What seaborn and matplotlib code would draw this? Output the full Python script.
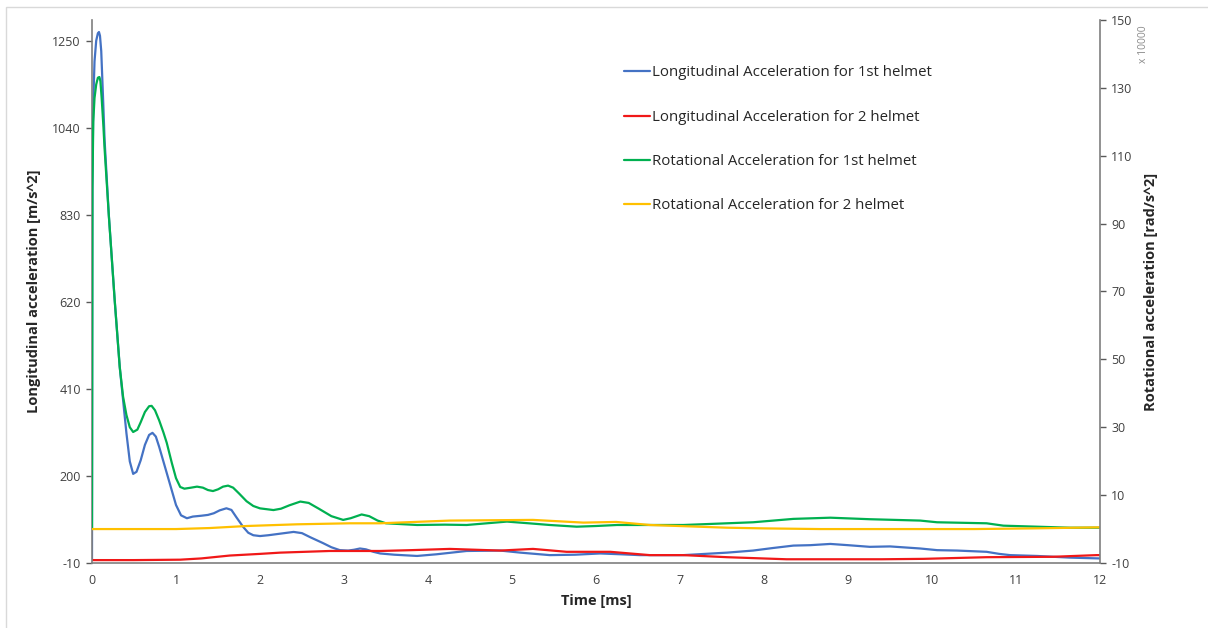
import numpy as np
import pandas as pd
import matplotlib
matplotlib.use("Agg")
import matplotlib.pyplot as plt
import seaborn as sns
from matplotlib.patches import Rectangle

# ---- data ----
t_blue = [0, 0.005, 0.015, 0.03, 0.05, 0.07, 0.083, 0.095, 0.11, 0.13, 0.15, 0.20, 0.27, 0.33,
          0.41, 0.45, 0.49, 0.53, 0.58, 0.63, 0.68, 0.72, 0.76, 0.80, 0.85, 0.89, 0.95, 1.00,
          1.06, 1.13, 1.20, 1.30, 1.38, 1.45, 1.52, 1.60, 1.66, 1.72, 1.80, 1.86, 1.92, 2.00,
          2.10, 2.25, 2.40, 2.50, 2.60, 2.75, 2.85, 2.95, 3.05, 3.12, 3.19, 3.26, 3.35, 3.43,
          3.60, 3.87, 4.10, 4.46, 4.86, 5.10, 5.45, 5.75, 6.05, 6.30, 6.52, 7.04, 7.30, 7.56,
          7.87, 8.10, 8.35, 8.55, 8.79, 9.00, 9.26, 9.50, 9.86, 10.06, 10.30, 10.65, 10.80,
          10.93, 11.25, 11.64, 12.0]
long_1st = [0, 900, 1100, 1200, 1250, 1268, 1271, 1262, 1225, 1120, 1010, 830, 624, 463,
            303, 235, 205, 210, 238, 275, 299, 304, 295, 270, 235, 207, 165, 130,
            105, 98, 102, 104, 106, 110, 117, 122, 118, 100, 77, 63, 57, 55,
            57, 61, 65, 62, 52, 38, 28, 21, 20, 22, 25, 23, 17, 13,
            10, 7, 11, 19, 20, 15, 9, 10, 13, 11, 9, 9, 12, 15,
            20, 26, 32, 33, 36, 33, 29, 30, 25, 21, 20, 17, 12,
            9, 7, 3, 1]

t_red = [0, 0.5, 1.05, 1.3, 1.64, 2.0, 2.24, 2.83, 3.43, 3.8, 4.26, 4.86, 5.25, 5.65, 6.17,
         6.64, 7.04, 7.56, 8.27, 8.8, 9.4, 9.9, 10.65, 11.44, 11.96, 12.0]
long_2nd = [-3, -3, -2, 1, 8, 12, 15, 19, 19, 21, 24, 20, 24, 17, 17,
            9, 9, 4, -1, -1, -1, 0, 4, 5, 9, 9]

t_green = [0, 0.005, 0.015, 0.03, 0.05, 0.07, 0.088, 0.10, 0.115, 0.135, 0.15, 0.20, 0.27,
           0.33, 0.37, 0.41, 0.45, 0.49, 0.54, 0.58, 0.63, 0.68, 0.71, 0.75, 0.80, 0.85, 0.89,
           0.95, 1.00, 1.05, 1.10, 1.18, 1.25, 1.32, 1.38, 1.44, 1.50, 1.56, 1.62, 1.68, 1.75,
           1.84, 1.92, 2.00, 2.16, 2.25, 2.35, 2.48, 2.58, 2.70, 2.85, 2.99, 3.08, 3.21, 3.30,
           3.40, 3.50, 3.87, 4.20, 4.46, 4.70, 4.94, 5.20, 5.45, 5.77, 6.00, 6.25, 6.64, 7.04,
           7.56, 7.87, 8.35, 8.79, 9.26, 9.86, 10.06, 10.65, 10.85, 11.25, 11.64, 12.0]
rot_1st = [0, 100, 120, 127, 131, 133, 133.2, 132, 127, 119, 112, 92.5, 67.5,
           47.8, 39, 33.6, 30, 28.6, 29.3, 31.5, 34.5, 36.2, 36.3, 35, 32, 28.5, 25.4,
           19.5, 15, 12.4, 11.9, 12.2, 12.5, 12.2, 11.5, 11.2, 11.7, 12.5, 12.8, 12.2, 10.5,
           8.2, 6.8, 6.1, 5.6, 6.0, 7.0, 8.1, 7.7, 6.0, 3.8, 2.7, 3.2, 4.3, 3.8,
           2.5, 1.7, 1.2, 1.3, 1.2, 1.7, 2.2, 1.7, 1.2, 0.7, 0.9, 1.2, 1.2, 1.2,
           1.7, 2.0, 3.0, 3.35, 2.9, 2.5, 2.0, 1.7, 1.0, 0.7, 0.4, 0.4]

t_yellow = [0, 0.5, 1.0, 1.4, 1.84, 2.44, 3.07, 3.43, 4.26, 5.25, 5.85, 6.24, 6.64, 7.56,
            8.0, 8.67, 9.3, 9.9, 10.5, 11.2, 11.96, 12.0]
rot_2nd = [0, 0, 0, 0.3, 0.9, 1.4, 1.7, 1.7, 2.5, 2.7, 1.9, 2.1, 1.2, 0.4,
           0.2, 0.0, 0.0, 0.0, 0.0, 0.2, 0.5, 0.5]

left_ticks = [-10, 200, 410, 620, 830, 1040, 1250]
right_ticks = [-10, 10, 30, 50, 70, 90, 110, 130, 150]
x_ticks = list(range(0, 13))

labels = ["Longitudinal Acceleration for 1st helmet",
          "Longitudinal Acceleration for 2 helmet",
          "Rotational Acceleration for 1st helmet",
          "Rotational Acceleration for 2 helmet"]
colors = ["#4472C4", "#F01818", "#00B050", "#FFC000"]

# ---- plotting ----
sns.set_style("white")
plt.rcParams['font.family'] = ['Open Sans', 'DejaVu Sans']
plt.rcParams['axes.unicode_minus'] = False

fig = plt.figure(figsize=(12.08, 6.28), dpi=100)
ax = fig.add_axes([92/1208, (628-563)/628, (1100-92)/1208, (563-20)/628])
ax2 = ax.twinx()

df_b = pd.DataFrame({"t": t_blue, "v": long_1st})
df_r = pd.DataFrame({"t": t_red, "v": long_2nd})
df_g = pd.DataFrame({"t": t_green, "v": rot_1st})
df_y = pd.DataFrame({"t": t_yellow, "v": rot_2nd})

lw = 1.6
kw = dict(lw=lw, legend=False, solid_joinstyle="round", solid_capstyle="round")
sns.lineplot(data=df_b, x="t", y="v", ax=ax, color=colors[0], label=labels[0], **kw)
sns.lineplot(data=df_r, x="t", y="v", ax=ax, color=colors[1], label=labels[1], **kw)
sns.lineplot(data=df_g, x="t", y="v", ax=ax2, color=colors[2], label=labels[2], **kw)
sns.lineplot(data=df_y, x="t", y="v", ax=ax2, color=colors[3], label=labels[3], **kw)

ax.set_xlim(0, 12)
ax.set_ylim(-10, 1300)
ax2.set_ylim(-10, 150)
ax.set_xticks(x_ticks)
ax.set_yticks(left_ticks)
ax2.set_yticks(right_ticks)

for a in (ax, ax2):
    a.spines['top'].set_visible(False)
    for s in a.spines.values():
        s.set_color("#7f7f7f")
        s.set_linewidth(1.2)
ax.spines['right'].set_visible(False)
ax2.spines['left'].set_visible(False)
ax2.spines['bottom'].set_visible(False)

tick_kw = dict(labelsize=9, colors="#595959", length=4, width=1, direction="out")
ax.tick_params(axis="x", pad=4, **tick_kw)
ax.tick_params(axis="y", left=True, pad=4, **tick_kw)
ax2.tick_params(axis="y", right=True, pad=4, **tick_kw)
for lab in ax.get_xticklabels() + ax.get_yticklabels() + ax2.get_yticklabels():
    lab.set_color("#404040")

ax.set_xlabel("Time [ms]", fontsize=10.5, fontweight="bold", color="#262626", labelpad=5)
ax.set_ylabel("Longitudinal acceleration [m/s^2]", fontsize=10.5, fontweight="bold",
              color="#262626", labelpad=8)
ax2.set_ylabel("Rotational acceleration [rad/s^2]", fontsize=10.5, fontweight="bold",
               color="#262626", labelpad=8)

fig.text(1144/1208, 1 - 44/628, "x 10000", rotation=90, fontsize=7.5, color="#8c8c8c",
         ha="center", va="center")

h1, l1 = ax.get_legend_handles_labels()
h2, l2 = ax2.get_legend_handles_labels()
leg = ax2.legend(h1 + h2, l1 + l2, loc="upper left", bbox_to_anchor=(616/1208, 1 - 58/628),
                 bbox_transform=fig.transFigure, frameon=False, fontsize=10.8,
                 handlelength=1.75, handletextpad=0.15, labelspacing=1.95, borderpad=0)
for txt in leg.get_texts():
    txt.set_color("#262626")

fig.patches.append(Rectangle((6/1208, -0.01), 1.2, 1 - 7/628 + 0.01, transform=fig.transFigure,
                             fill=False, edgecolor="#d9d9d9", lw=1))

fig.savefig("out.png", dpi=100)
